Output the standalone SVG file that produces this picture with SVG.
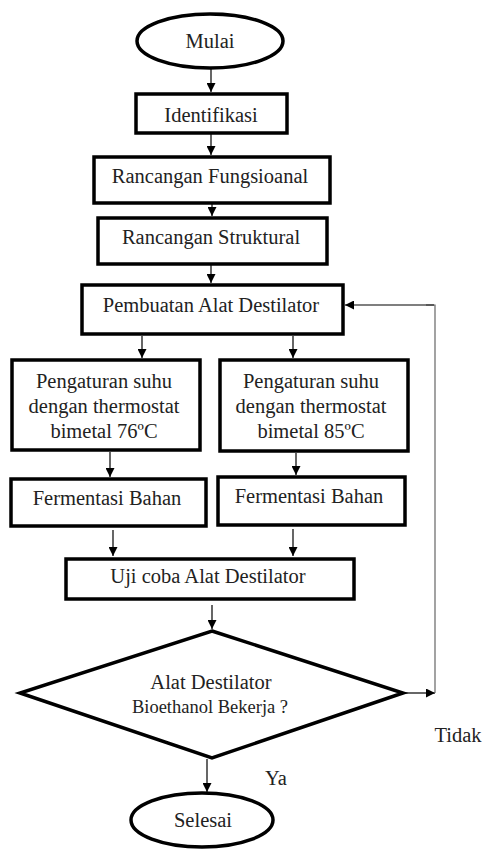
<svg xmlns="http://www.w3.org/2000/svg" width="488" height="850" viewBox="0 0 488 850">
<defs>
<marker id="ah" viewBox="0 0 10 10" refX="10" refY="5" markerWidth="9" markerHeight="9" markerUnits="userSpaceOnUse" orient="auto">
<path d="M0,0 L10,5 L0,10 Z" fill="#000"/>
</marker>
</defs>
<style>
.box{fill:#fff;stroke:#000;stroke-width:3.5}
.t{font-family:'Liberation Serif','DejaVu Serif',serif;font-size:20.5px;fill:#222;text-anchor:middle}
.s{font-size:18.5px}
.c{fill:none;stroke:#000;stroke-width:1.2}
.g{fill:none;stroke:#666;stroke-width:1.2}
</style>
<rect width="488" height="850" fill="#fff"/>
<g id="connectors">
<line class="c" x1="211" y1="68" x2="211" y2="92" marker-end="url(#ah)"/>
<line class="c" x1="211" y1="134" x2="211" y2="155" marker-end="url(#ah)"/>
<line class="c" x1="212" y1="204" x2="212" y2="216" marker-end="url(#ah)"/>
<line class="c" x1="211" y1="265" x2="211" y2="283" marker-end="url(#ah)"/>
<line class="c" x1="142" y1="336" x2="142" y2="358" marker-end="url(#ah)"/>
<line class="c" x1="293" y1="336" x2="293" y2="358" marker-end="url(#ah)"/>
<line class="c" x1="110" y1="452" x2="110" y2="477" marker-end="url(#ah)"/>
<line class="c" x1="296" y1="453" x2="296" y2="475" marker-end="url(#ah)"/>
<line class="c" x1="113" y1="530" x2="113" y2="556" marker-end="url(#ah)"/>
<line class="c" x1="293" y1="529" x2="293" y2="556" marker-end="url(#ah)"/>
<line class="c" x1="212" y1="605" x2="212" y2="629" marker-end="url(#ah)"/>
<line class="c" x1="403" y1="693" x2="435" y2="693" marker-end="url(#ah)"/>
<polyline class="g" points="435,693 435,305 426,305"/>
<line class="c" x1="434" y1="305" x2="345" y2="305" marker-end="url(#ah)"/>
<line class="c" x1="207" y1="759" x2="207" y2="792" marker-end="url(#ah)"/>
</g>
<g id="mulai">
<ellipse class="box" cx="210" cy="41" rx="73" ry="27"/>
<text class="t" x="210" y="48">Mulai</text>
</g>
<g id="identifikasi">
<rect class="box" x="136" y="94" width="151" height="39"/>
<text class="t" x="211" y="122">Identifikasi</text>
</g>
<g id="rancangan-fungsional">
<rect class="box" x="94" y="157" width="236" height="46"/>
<text class="t" x="210" y="183">Rancangan Fungsioanal</text>
</g>
<g id="rancangan-struktural">
<rect class="box" x="98" y="218" width="229" height="46"/>
<text class="t" x="211" y="244">Rancangan Struktural</text>
</g>
<g id="pembuatan">
<rect class="box" x="82" y="285" width="261" height="49"/>
<text class="t" x="211" y="312">Pembuatan Alat Destilator</text>
</g>
<g id="suhu-76">
<rect class="box" x="12" y="360" width="188" height="90"/>
<text class="t" x="104" y="388">Pengaturan suhu</text>
<text class="t" x="104" y="413">dengan thermostat</text>
<text class="t" x="104" y="438">bimetal 76ºC</text>
</g>
<g id="suhu-85">
<rect class="box" x="220" y="360" width="188" height="91"/>
<text class="t" x="311" y="388">Pengaturan suhu</text>
<text class="t" x="311" y="413">dengan thermostat</text>
<text class="t" x="311" y="438">bimetal 85ºC</text>
</g>
<g id="fermentasi-1">
<rect class="box" x="11" y="479" width="195" height="47"/>
<text class="t" x="107" y="505">Fermentasi Bahan</text>
</g>
<g id="fermentasi-2">
<rect class="box" x="218" y="477" width="187" height="48"/>
<text class="t" x="309" y="503">Fermentasi Bahan</text>
</g>
<g id="uji-coba">
<rect class="box" x="66" y="559" width="288" height="40"/>
<text class="t" x="208" y="583">Uji coba Alat Destilator</text>
</g>
<g id="keputusan">
<polygon class="box" points="212,631 403,693 212,758 20,693"/>
<text class="t" x="211" y="689">Alat Destilator</text>
<text class="t s" x="210" y="713">Bioethanol Bekerja ?</text>
</g>
<g id="label-tidak">
<text class="t" x="458" y="742">Tidak</text>
</g>
<g id="label-ya">
<text class="t" x="276" y="785">Ya</text>
</g>
<g id="selesai">
<ellipse class="box" cx="202" cy="820" rx="71" ry="27"/>
<text class="t" x="203" y="827">Selesai</text>
</g>
</svg>
